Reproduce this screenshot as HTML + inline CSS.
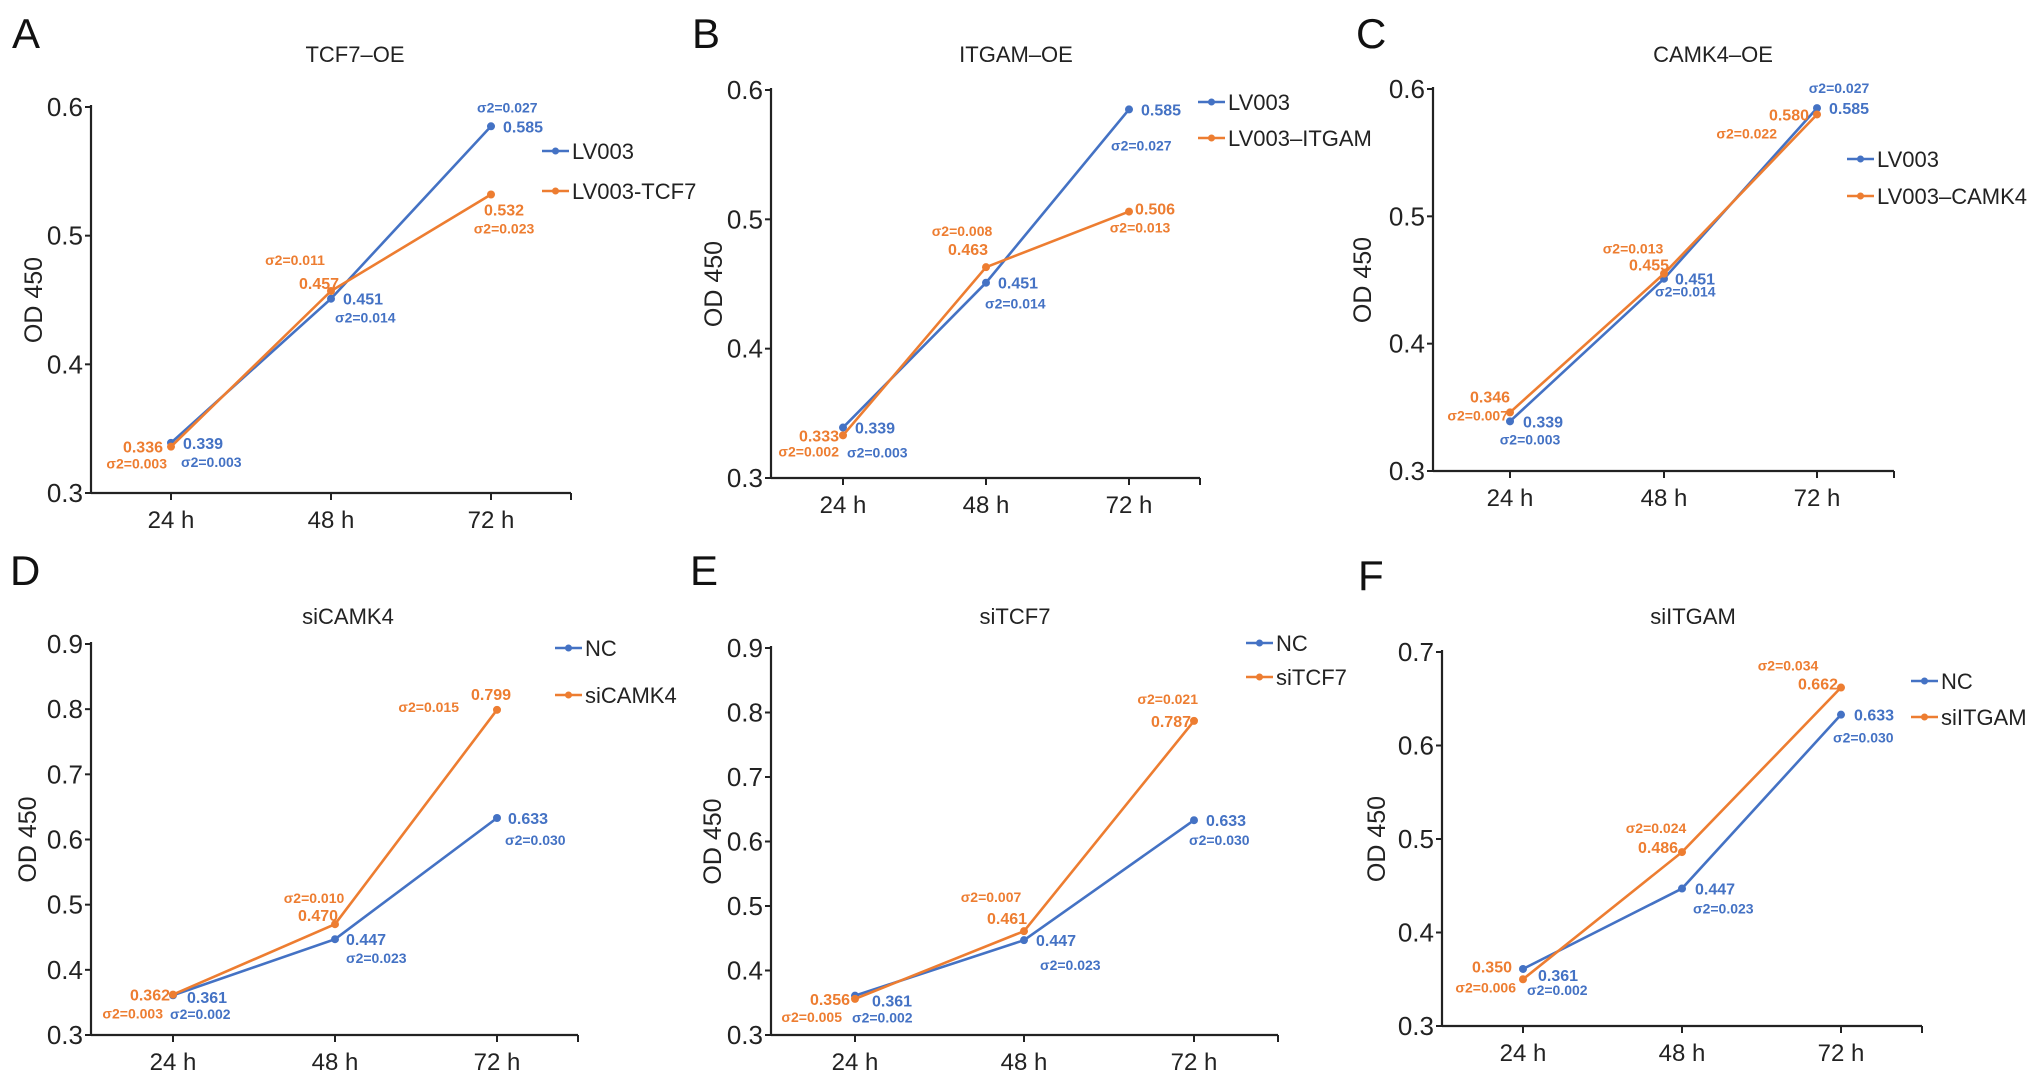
<!DOCTYPE html>
<html><head><meta charset="utf-8">
<style>
html,body{margin:0;padding:0;background:#fff;}
svg{display:block;font-family:"Liberation Sans",Arial,sans-serif;}
</style></head>
<body>
<svg id="fig" width="2032" height="1085" viewBox="0 0 2032 1085" xmlns="http://www.w3.org/2000/svg"></svg>
<script>
const categories = ["24 h","48 h","72 h"];
// Panel A
const aNames = ["LV003","LV003-TCF7"];
const aBlue = [0.339,0.451,0.585];
const aOrange = [0.336,0.457,0.532];
const aBlueSig = ["0.003","0.014","0.027"];
const aOrangeSig = ["0.003","0.011","0.023"];
// Panel B
const bNames = ["LV003","LV003–ITGAM"];
const bBlue = [0.339,0.451,0.585];
const bOrange = [0.333,0.463,0.506];
const bBlueSig = ["0.003","0.014","0.027"];
const bOrangeSig = ["0.002","0.008","0.013"];
// Panel C
const cNames = ["LV003","LV003–CAMK4"];
const cBlue = [0.339,0.451,0.585];
const cOrange = [0.346,0.455,0.580];
const cBlueSig = ["0.003","0.014","0.027"];
const cOrangeSig = ["0.007","0.013","0.022"];
// Panel D
const dNames = ["NC","siCAMK4"];
const dBlue = [0.361,0.447,0.633];
const dOrange = [0.362,0.470,0.799];
const dBlueSig = ["0.002","0.023","0.030"];
const dOrangeSig = ["0.003","0.010","0.015"];
// Panel E
const eNames = ["NC","siTCF7"];
const eBlue = [0.361,0.447,0.633];
const eOrange = [0.356,0.461,0.787];
const eBlueSig = ["0.002","0.023","0.030"];
const eOrangeSig = ["0.005","0.007","0.021"];
// Panel F
const fNames = ["NC","siITGAM"];
const fBlue = [0.361,0.447,0.633];
const fOrange = [0.350,0.486,0.662];
const fBlueSig = ["0.002","0.023","0.030"];
const fOrangeSig = ["0.006","0.024","0.034"];
const ticksTop = [0.3,0.4,0.5,0.6];
const ticksD = [0.3,0.4,0.5,0.6,0.7,0.8,0.9];
const ticksF = [0.3,0.4,0.5,0.6,0.7];

const BLUE="#4472C4", ORANGE="#ED7D31";
const NS="http://www.w3.org/2000/svg";
const svg=document.getElementById('fig');
function mk(tag,attrs,parent){const e=document.createElementNS(NS,tag);for(const k in attrs)e.setAttribute(k,attrs[k]);(parent||svg).appendChild(e);return e;}

// layout (label offsets: [dx,dy,anchor])
const panels=[
 {id:"a",letter:"A",title:"TCF7–OE",lx:12,ly:48,ax:91,axEnd:571,yTop:107,yBot:493,yMin:0.3,yMax:0.6,ticks:ticksTop,xs:[171,331,491],tx:355,ty:62,ylx:33,leg:[542,151,191],
  names:aNames,blue:aBlue,orange:aOrange,bs:aBlueSig,os:aOrangeSig,
  bv:[[12,0,"start"],[12,0,"start"],[12,0,"start"]],bsg:[[10,19,"start"],[4,19,"start"],[-14,-19,"start"]],
  ov:[[-8,0,"end"],[-12,-8,"middle"],[13,15,"middle"]],osg:[[-4,17,"end"],[-36,-31,"middle"],[13,34,"middle"]]},
 {id:"b",letter:"B",title:"ITGAM–OE",lx:692,ly:48,ax:771,axEnd:1200,yTop:90,yBot:478,yMin:0.3,yMax:0.6,ticks:ticksTop,xs:[843,986,1129],tx:1016,ty:62,ylx:713,leg:[1198,102,138],
  names:bNames,blue:bBlue,orange:bOrange,bs:bBlueSig,os:bOrangeSig,
  bv:[[12,0,"start"],[12,0,"start"],[12,0,"start"]],bsg:[[4,25,"start"],[-1,21,"start"],[-18,36,"start"]],
  ov:[[-4,0,"end"],[-18,-18,"middle"],[6,-3,"start"]],osg:[[-4,16,"end"],[-24,-36,"middle"],[11,16,"middle"]]},
 {id:"c",letter:"C",title:"CAMK4–OE",lx:1356,ly:48,ax:1433,axEnd:1894,yTop:89,yBot:471,yMin:0.3,yMax:0.6,ticks:ticksTop,xs:[1510,1664,1817],tx:1713,ty:62,ylx:1362,leg:[1847,159,196],
  names:cNames,blue:cBlue,orange:cOrange,bs:cBlueSig,os:cOrangeSig,
  bv:[[13,0,"start"],[11,0,"start"],[12,0,"start"]],bsg:[[20,18,"middle"],[-9,13,"start"],[22,-20,"middle"]],
  ov:[[-20,-16,"middle"],[-15,-9,"middle"],[-8,0,"end"]],osg:[[-2,3,"end"],[-31,-25,"middle"],[-40,19,"end"]]},
 {id:"d",letter:"D",title:"siCAMK4",lx:10,ly:585,ax:91,axEnd:578,yTop:644,yBot:1035,yMin:0.3,yMax:0.9,ticks:ticksD,xs:[173,335,497],tx:348,ty:624,ylx:27,leg:[555,648,695],
  names:dNames,blue:dBlue,orange:dOrange,bs:dBlueSig,os:dOrangeSig,
  bv:[[14,2,"start"],[11,0,"start"],[11,0,"start"]],bsg:[[-3,19,"start"],[11,19,"start"],[8,22,"start"]],
  ov:[[-3,0,"end"],[-17,-9,"middle"],[-6,-16,"middle"]],osg:[[-10,19,"end"],[-21,-26,"middle"],[-38,-3,"end"]]},
 {id:"e",letter:"E",title:"siTCF7",lx:690,ly:585,ax:771,axEnd:1278,yTop:648,yBot:1035,yMin:0.3,yMax:0.9,ticks:ticksD,xs:[855,1024,1194],tx:1015,ty:624,ylx:712,leg:[1246,643,677],
  names:eNames,blue:eBlue,orange:eOrange,bs:eBlueSig,os:eOrangeSig,
  bv:[[17,5,"start"],[12,0,"start"],[12,0,"start"]],bsg:[[-3,22,"start"],[16,25,"start"],[-5,20,"start"]],
  ov:[[-5,0,"end"],[-17,-13,"middle"],[-3,0,"end"]],osg:[[-13,18,"end"],[-33,-34,"middle"],[4,-22,"end"]]},
 {id:"f",letter:"F",title:"siITGAM",lx:1358,ly:590,ax:1442,axEnd:1922,yTop:652,yBot:1026,yMin:0.3,yMax:0.7,ticks:ticksF,xs:[1523,1682,1841],tx:1693,ty:624,ylx:1376,leg:[1911,681,717],
  names:fNames,blue:fBlue,orange:fOrange,bs:fBlueSig,os:fOrangeSig,
  bv:[[15,6,"start"],[13,0,"start"],[13,0,"start"]],bsg:[[4,21,"start"],[11,20,"start"],[-8,23,"start"]],
  ov:[[-11,-13,"end"],[-24,-5,"middle"],[-3,-4,"end"]],osg:[[-7,8,"end"],[-26,-24,"middle"],[-53,-22,"middle"]]}
];

panels.forEach(p=>{
  const g=mk('g',{});
  
  
  const yS=v=>p.yBot-(v-p.yMin)/(p.yMax-p.yMin)*(p.yBot-p.yTop);
  const xS=i=>p.xs[i];
  const L=mk('text',{x:p.lx,y:p.ly,'font-size':42,fill:'#111'},g);L.textContent=p.letter;
  
  
  const T=mk('text',{x:p.tx,y:p.ty,'font-size':22,'text-anchor':'middle',fill:'#222'},g);T.textContent=p.title;
  
  
  const yl=mk('text',{x:0,y:0,'font-size':25,'text-anchor':'middle',fill:'#222',transform:`translate(${p.ylx+9},${(p.yTop+p.yBot)/2}) rotate(-90)`},g);yl.textContent="OD 450";
  
  
  // axes
  const ya=mk('line',{x1:p.ax,y1:p.yTop-2,x2:p.ax,y2:p.yBot,stroke:'#222','stroke-width':2.2},g);
  
  
  const xa=mk('line',{x1:p.ax,y1:p.yBot,x2:p.axEnd,y2:p.yBot,stroke:'#222','stroke-width':2.2},g);
  
  
  mk('line',{x1:p.axEnd,y1:p.yBot,x2:p.axEnd,y2:p.yBot+7,stroke:'#222','stroke-width':2},g);
  p.ticks.forEach(t=>{
    const y=yS(t);
    mk('line',{x1:p.ax-6,y1:y,x2:p.ax,y2:y,stroke:'#222','stroke-width':2},g);
    const tl=mk('text',{x:p.ax-8,y:y+9,'font-size':26,'text-anchor':'end',fill:'#222'},g);tl.textContent=t.toFixed(1);
    
    
  });
  categories.forEach((c,i)=>{
    mk('line',{x1:xS(i),y1:p.yBot,x2:xS(i),y2:p.yBot+7,stroke:'#222','stroke-width':2},g);
    const xl=mk('text',{x:xS(i),y:p.yBot+35,'font-size':24,'text-anchor':'middle',fill:'#222'},g);xl.textContent=c;
    
    
  });
  const series=[{v:p.blue,s:p.bs,c:BLUE,vo:p.bv,so:p.bsg,n:p.names[0]},{v:p.orange,s:p.os,c:ORANGE,vo:p.ov,so:p.osg,n:p.names[1]}];
  series.forEach((s,si)=>{
    const pts=s.v.map((v,i)=>xS(i)+','+yS(v)).join(' ');
    const pl=mk('polyline',{points:pts,fill:'none',stroke:s.c,'stroke-width':2.6},g);
    
    
    s.v.forEach((v,i)=>{
      const x=xS(i),y=yS(v);
      const d=mk('circle',{cx:x,cy:y,r:4,fill:s.c},g);
      
      
      const vt=mk('text',{x:x+s.vo[i][0],y:y+s.vo[i][1]+6,'font-size':16,'font-weight':'bold','text-anchor':s.vo[i][2],fill:s.c},g);
      vt.textContent=v.toFixed(3);
      
      
      const st=mk('text',{x:x+s.so[i][0],y:y+s.so[i][1]+5,'font-size':14,'font-weight':'bold','text-anchor':s.so[i][2],fill:s.c},g);
      st.textContent='σ2='+s.s[i];
      
      
    });
    const lx=p.leg[0], ly=p.leg[1+si];
    const lg=mk('g',{},g);
    
    
    mk('line',{x1:lx,y1:ly,x2:lx+27,y2:ly,stroke:s.c,'stroke-width':2.6},lg);
    mk('circle',{cx:lx+13.5,cy:ly,r:3.5,fill:s.c},lg);
    const lt=mk('text',{x:lx+30,y:ly+8,'font-size':22,fill:'#222'},lg);lt.textContent=s.n;
  });
});
</script>
</body></html>
